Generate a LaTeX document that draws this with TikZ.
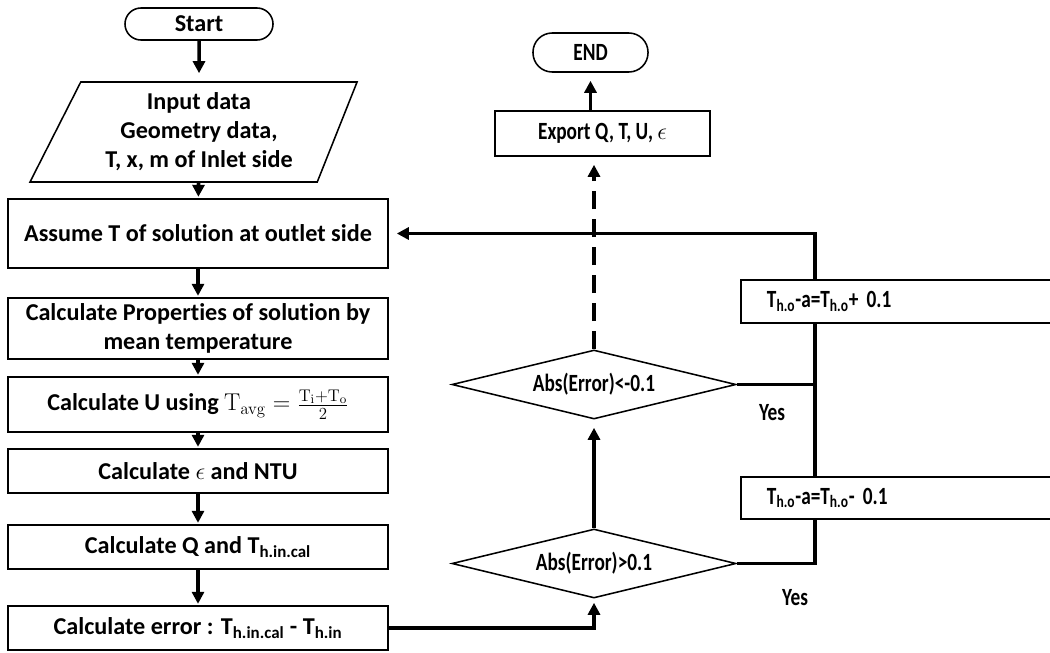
\documentclass[tikz,border=0pt]{standalone}
\usepackage[no-math]{fontspec}
\setmainfont{Carlito}[Ligatures={NoCommon}]
\newfontfamily\narrowfont{Carlito}[Ligatures={NoCommon}, FakeStretch=0.78]
\usetikzlibrary{arrows.meta,shapes.geometric}

\begin{document}
\begin{tikzpicture}[x=0.025cm, y=-0.025cm,
    every node/.style={font=\fontsize{17.2}{20.6}\selectfont\bfseries},
    narrow/.style={font=\fontsize{17.6}{20.6}\selectfont\narrowfont\bfseries},
    >={Triangle[length=0.3cm,width=0.3cm]},
    box/.style={draw, line width=1.1pt, rectangle, align=center, inner sep=0pt},
    term/.style={draw, line width=1.1pt, rectangle, inner sep=0pt},
    decision/.style={draw, line width=1.1pt, diamond, aspect=4, inner sep=0pt},
    flow/.style={line width=2.5pt}]

    \useasboundingbox (0,0) rectangle (1050,652);

    % left column
    \node[term, rounded corners=0.4cm, minimum width=3.7cm, minimum height=0.8cm] (start) at (199,24) {Start};
    \node[draw, line width=1.1pt, trapezium, trapezium left angle=57, trapezium right angle=117,
          trapezium stretches body, minimum width=8.175cm, minimum height=2.5cm,
          inner sep=0pt, align=center] (input) at (199,132) {Input data\\Geometry data,\\T, x, m of Inlet side};
    \node[box, minimum width=9.5cm, minimum height=1.725cm] (assume) at (198,233.5) {Assume T of solution at outlet side};
    \node[box, minimum width=9.5cm, minimum height=1.525cm] (props) at (198,328.5) {Calculate Properties of solution by\\mean temperature};
    \node[box, minimum width=9.5cm, minimum height=1.375cm] (ubox) at (198,404.5) {Calculate U using $\mathrm{T_{avg}}=\frac{\mathrm{T_i+T_o}}{2}$};
    \node[box, minimum width=9.5cm, minimum height=1.1cm] (eps) at (198,471) {Calculate $\epsilon$ and NTU};
    \node[box, minimum width=9.5cm, minimum height=1.1cm] (qbox) at (198,547) {Calculate Q and T\textsubscript{h.in.cal}};
    \node[box, minimum width=9.5cm, minimum height=1.1cm] (err) at (198,628) {Calculate error : T\textsubscript{h.in.cal} - T\textsubscript{h.in}};

    % right column
    \node[term, narrow, rounded corners=0.48cm, minimum width=2.875cm, minimum height=0.975cm] (end) at (590.5,52.5) {END};
    \node[box, narrow, minimum width=5.375cm, minimum height=1.125cm] (export) at (602.5,133.5) {Export Q, T, U, $\epsilon$};
    \node[decision, narrow, minimum width=7.1cm, minimum height=1.725cm] (dia1) at (594,384.5) {Abs(Error)<-0.1};
    \node[decision, narrow, minimum width=7.1cm, minimum height=1.725cm] (dia2) at (594,563.5) {Abs(Error)>0.1};

    % correction boxes
    \node[box, narrow, minimum height=1.075cm, text width=6.725cm, inner xsep=0.65cm, align=left] (plus) at (901.5,301.5) {T\textsubscript{h.o}-a=T\textsubscript{h.o}+ 0.1};
    \node[box, narrow, minimum height=1.05cm, text width=6.725cm, inner xsep=0.65cm, align=left] (minus) at (901.5,498) {T\textsubscript{h.o}-a=T\textsubscript{h.o}- 0.1};
    \node[narrow] (yes1) at (772,413) {Yes};
    \node[narrow] (yes2) at (795,598) {Yes};
    \coordinate (loop) at (815,238);

    % main flow
    \draw[flow,->,shorten >=0.2cm] (start) -- (input);
    \draw[flow,->,shorten >=1pt] (input) -- (assume);
    \draw[flow,->,shorten >=1pt] (assume) -- (props);
    \draw[flow,->,shorten >=1pt] (props) -- (ubox);
    \draw[flow,->,shorten >=1pt] (ubox) -- (eps);
    \draw[flow,->,shorten >=1pt] (eps) -- (qbox);
    \draw[flow,->,shorten >=1pt] (qbox) -- (err);
    \draw[flow,->,shorten >=0.1cm] (err.east) -| (dia2.south);
    \draw[flow,->,shorten >=0.2cm] (dia2.north) -- (dia1.south);
    \draw[flow,->,dash pattern=on 0.45cm off 0.25cm,shorten >=0.2cm] (dia1.north) -- (dia1.north |- export.south);
    \draw[flow,->,shorten >=0.2cm] (export.north -| end) -- (end.south);

    % correction loop
    \draw[flow] (dia2.east) -| (minus.south -| loop);
    \draw[flow] (minus.north -| loop) -- (plus.south -| loop);
    \draw[flow,->,shorten >=0.2cm] (plus.north -| loop) |- (assume.east);
    \draw[flow] (dia1.east) -- (dia1.east -| loop);

\end{tikzpicture}
\end{document}
